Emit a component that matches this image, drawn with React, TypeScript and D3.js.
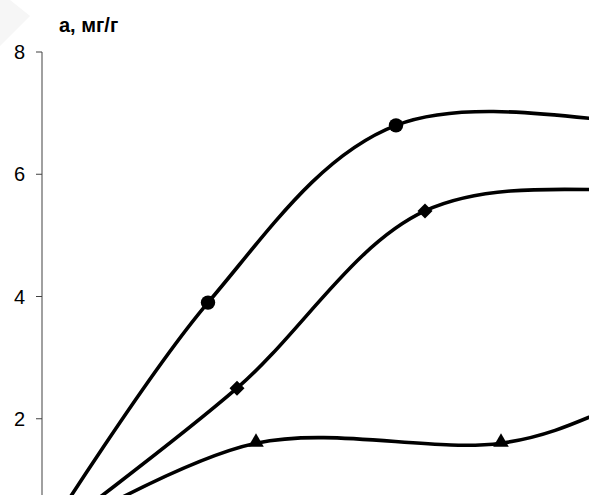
import React from 'react';
import { scaleLinear, line, curveCardinal, symbol, symbolTriangle } from 'd3';

// x values are in arbitrary chart units; y is sorption a, mg/g
const circleX = [0, 33.2, 70.8, 125, 160];
const circleY = [0, 3.9, 6.8, 6.8, 6.5];
const diamondX = [0, 39, 76.6, 125, 160];
const diamondY = [0, 2.5, 5.4, 5.75, 5.8];
const triangleX = [0, 42.8, 91.8, 125, 160];
const triangleY = [0, 1.6, 1.6, 2.5, 3.0];
// only the middle points carry a visible marker
const markerIdx = [1, 2];

const yTicks = [2, 4, 6, 8];
const yTitle = 'а, мг/г';

type P = [number, number];

export default function App() {
  const width = 589;
  const height = 495;

  const x = scaleLinear().domain([0, 100]).range([42, 542]);
  const y = scaleLinear().domain([0, 8]).range([541, 52]);

  const lineGen = line<P>()
    .x(d => x(d[0]))
    .y(d => y(d[1]))
    .curve(curveCardinal.tension(0));

  const zip = (xs: number[], ys: number[]): P[] => xs.map((v, i) => [v, ys[i]]);
  const series = [
    { key: 'circle', pts: zip(circleX, circleY) },
    { key: 'diamond', pts: zip(diamondX, diamondY) },
    { key: 'triangle', pts: zip(triangleX, triangleY) },
  ];

  const trianglePath = symbol().type(symbolTriangle).size(105)() as string;
  const dd = 7.5;
  const diamondPath = `M0,${-dd}L${dd},0L0,${dd}L${-dd},0Z`;

  const marker = (key: string, p: P, i: number) => {
    const cx = x(p[0]);
    const cy = y(p[1]);
    if (key === 'circle') return <circle key={i} cx={cx} cy={cy} r={7.2} fill="#000" />;
    if (key === 'diamond')
      return <path key={i} d={diamondPath} transform={`translate(${cx},${cy})`} fill="#000" />;
    return <path key={i} d={trianglePath} transform={`translate(${cx},${cy - 1})`} fill="#000" />;
  };

  return (
    <svg
      width={width}
      height={height}
      style={{ position: 'absolute', top: 0, left: 0, background: '#fff' }}
    >
      <defs>
        <clipPath id="plot-clip">
          <rect x={42} y={0} width={width} height={height} />
        </clipPath>
      </defs>

      {/* faint corner watermark */}
      <polygon points="0,0 10,0 30,16 0,46" fill="#f6f6f6" />

      {/* y axis */}
      <line x1={42} x2={42} y1={y(8)} y2={height} stroke="#808080" strokeWidth={1.5} />
      {yTicks.map(t => (
        <g key={t}>
          <line x1={36} x2={42} y1={y(t)} y2={y(t)} stroke="#404040" strokeWidth={1} />
          <text
            x={25}
            y={y(t)}
            dy="0.36em"
            textAnchor="end"
            fontFamily="Liberation Sans, Arial, sans-serif"
            fontSize={20}
            fill="#000"
          >
            {t}
          </text>
        </g>
      ))}
      <text
        x={59}
        y={32}
        fontFamily="Liberation Sans, Arial, sans-serif"
        fontSize={20}
        fontWeight="bold"
        fill="#000"
      >
        {yTitle}
      </text>

      <g clipPath="url(#plot-clip)">
        {series.map(s => (
          <g key={s.key}>
            <path d={lineGen(s.pts) as string} fill="none" stroke="#000" strokeWidth={3.6} />
            {markerIdx.map(i => marker(s.key, s.pts[i], i))}
          </g>
        ))}
      </g>
    </svg>
  );
}
